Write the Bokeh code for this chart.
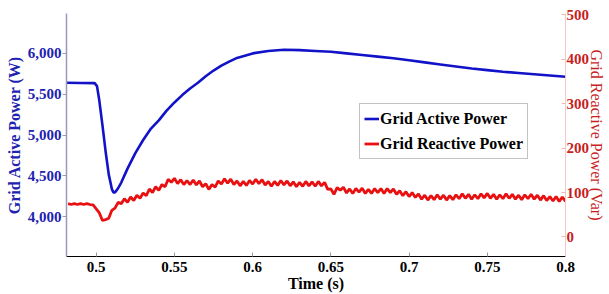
import numpy as np
from bokeh.plotting import figure
from bokeh.models import (Range1d, LinearAxis, FixedTicker, NumeralTickFormatter,
                          CustomJSTickFormatter, Legend, LegendItem)
from bokeh.embed import file_html
from bokeh.resources import INLINE

# ---- data ----
t_active = [0.481, 0.490, 0.499, 0.5005, 0.502, 0.504, 0.506, 0.508, 0.510, 0.511,
            0.512, 0.514, 0.516, 0.520, 0.525, 0.530, 0.535, 0.540, 0.545, 0.550,
            0.555, 0.560, 0.565, 0.570, 0.575, 0.580, 0.585, 0.590, 0.600, 0.610,
            0.620, 0.630, 0.640, 0.650, 0.660, 0.670, 0.680, 0.690, 0.700, 0.710,
            0.720, 0.730, 0.740, 0.750, 0.760, 0.770, 0.780, 0.790, 0.800]
p_active = [5640, 5638, 5636, 5600, 5420, 5120, 4800, 4520, 4340, 4300,
            4300, 4350, 4420, 4590, 4780, 4940, 5080, 5180, 5300, 5400,
            5490, 5570, 5640, 5720, 5790, 5850, 5900, 5945, 6000, 6030,
            6045, 6040, 6030, 6020, 6000, 5980, 5960, 5940, 5915, 5890,
            5865, 5840, 5815, 5795, 5775, 5760, 5745, 5730, 5715]

t_reactive = [round(0.482 + 0.002 * i, 3) for i in range(160)]
q_reactive = [
    75, 73, 75, 73, 75, 73, 75, 73, 72, 63,
    54, 37, 39, 42, 60, 65, 78, 75, 86, 78,
    90, 82, 94, 87, 99, 93, 108, 100, 113, 105,
    118, 113, 130, 123, 132, 120, 129, 118, 127, 118,
    128, 117, 126, 113, 120, 107, 118, 112, 126, 119,
    131, 121, 130, 118, 126, 115, 125, 116, 127, 119,
    130, 120, 129, 117, 125, 114, 125, 116, 127, 117,
    126, 115, 124, 113, 123, 114, 125, 115, 124, 114,
    125, 115, 123, 107, 108, 96, 111, 105, 112, 99,
    108, 98, 109, 101, 110, 98, 107, 98, 109, 100,
    109, 98, 109, 100, 108, 96, 104, 93, 102, 91,
    100, 89, 97, 85, 94, 83, 93, 84, 95, 85,
    94, 83, 93, 84, 95, 86, 97, 87, 96, 85,
    95, 86, 97, 88, 98, 87, 96, 85, 95, 86,
    97, 87, 96, 85, 94, 84, 95, 86, 96, 85,
    94, 83, 93, 82, 91, 81, 91, 80, 90, 80,
]

x_ticks = [0.5, 0.55, 0.6, 0.65, 0.7, 0.75, 0.8]
left_ticks = [4000, 4500, 5000, 5500, 6000]
right_ticks = [0, 100, 200, 300, 400, 500]

BLUE = "#1212c8"
BLUE_TXT = "#2222b0"
RED = "#e81010"
RED_TXT = "#c81e1e"
FONT = "Liberation Serif"

p = figure(width=609, height=294, output_backend="svg", toolbar_location=None,
           x_range=Range1d(0.481, 0.8), y_range=Range1d(3515, 6488),
           min_border_left=66, min_border_right=44, min_border_top=13,
           min_border_bottom=36)
p.outline_line_color = None
p.grid.visible = False
p.background_fill_color = "white"
p.border_fill_color = "white"

p.extra_y_ranges = {"q": Range1d(-44, 503)}

r_blue = p.line(t_active, p_active, line_color=BLUE, line_width=2.6)
r_red = p.line(t_reactive, q_reactive, line_color=RED, line_width=2.8,
               y_range_name="q")

# x axis
xa = p.xaxis[0]
xa.ticker = FixedTicker(ticks=x_ticks)
xa.formatter = CustomJSTickFormatter(code="return String(Math.round(tick*100)/100);")
xa.axis_label = "Time (s)"
xa.axis_label_text_font = FONT
xa.axis_label_text_font_style = "bold"
xa.axis_label_text_font_size = "16px"
xa.axis_label_text_color = "black"
xa.axis_label_standoff = 0
xa.major_label_text_font = FONT
xa.major_label_text_font_style = "bold"
xa.major_label_text_font_size = "15px"
xa.major_label_text_color = "black"
xa.major_label_standoff = 5
xa.major_tick_in = 4
xa.major_tick_out = 0
xa.major_tick_line_color = "#999999"
xa.minor_tick_line_color = None
xa.axis_line_color = "black"
xa.axis_line_width = 1.2

# left axis
ya = p.yaxis[0]
ya.ticker = FixedTicker(ticks=left_ticks)
ya.formatter = NumeralTickFormatter(format="0,0")
ya.axis_label = "Grid Active Power (W)"
ya.axis_label_text_font = FONT
ya.axis_label_text_font_style = "bold"
ya.axis_label_text_font_size = "16px"
ya.axis_label_text_color = BLUE_TXT
ya.axis_label_standoff = 2
ya.major_label_text_font = FONT
ya.major_label_text_font_style = "bold"
ya.major_label_text_font_size = "15px"
ya.major_label_text_color = BLUE_TXT
ya.major_label_standoff = 1
ya.major_tick_in = 0
ya.major_tick_out = 4
ya.major_tick_line_color = "#9a9ab8"
ya.minor_tick_line_color = None
ya.axis_line_color = "#9a9ab8"
ya.axis_line_width = 1.5

# right axis
ra = LinearAxis(y_range_name="q")
ra.ticker = FixedTicker(ticks=right_ticks)
ra.axis_label = "Grid Reactive Power (Var)"
ra.axis_label_text_font = FONT
ra.axis_label_text_font_style = "normal"
ra.axis_label_text_font_size = "16px"
ra.axis_label_text_color = RED_TXT
ra.axis_label_standoff = -4
ra.major_label_text_font = FONT
ra.major_label_text_font_style = "bold"
ra.major_label_text_font_size = "15px"
ra.major_label_text_color = RED_TXT
ra.major_label_standoff = 1
ra.major_tick_in = 4
ra.major_tick_out = 0
ra.major_tick_line_color = "#f0b8b8"
ra.minor_tick_line_color = None
ra.axis_line_color = "#f5c8c8"
ra.axis_line_width = 1
p.add_layout(ra, "right")

legend = Legend(items=[LegendItem(label="Grid Active Power", renderers=[r_blue]),
                       LegendItem(label="Grid Reactive Power", renderers=[r_red])],
                location=(293, 97))
legend.label_text_font = FONT
legend.label_text_font_style = "bold"
legend.label_text_font_size = "16px"
legend.label_text_color = "black"
legend.label_standoff = 1
legend.glyph_width = 15
legend.glyph_height = 21
legend.label_height = 21
legend.spacing = 4
legend.padding = 4
legend.margin = 0
legend.border_line_color = "#888888"
legend.border_line_width = 1
legend.background_fill_alpha = 1
p.add_layout(legend, "center")

open("out.html", "w").write(file_html(p, INLINE))
